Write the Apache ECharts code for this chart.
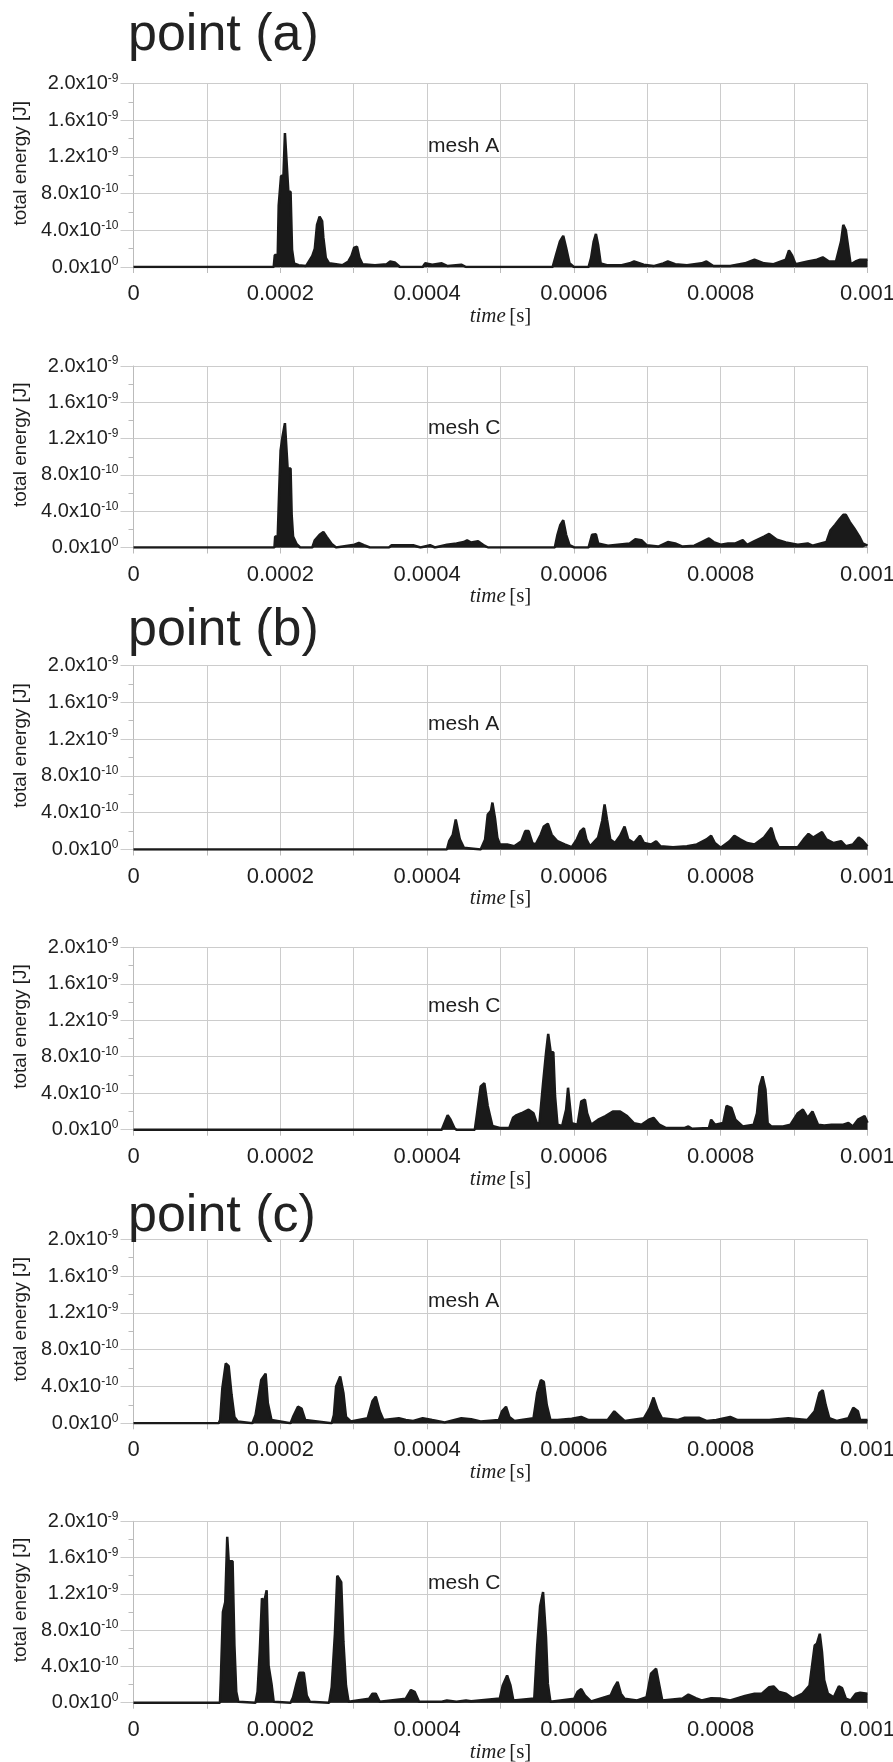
<!DOCTYPE html>
<html><head><meta charset="utf-8">
<script src="https://cdn.jsdelivr.net/npm/echarts@6/dist/echarts.min.js"></script>
<style>html,body{margin:0;padding:0;background:#fff}#c{width:893px;height:1762px}</style>
</head><body><div id="c"></div>
<script>
// time in microseconds, energy in units of 1e-10 J (upper envelope)
const US = 1e-6, E10 = 1e-10;
const xTickLabels = ['0','','0.0002','','0.0004','','0.0006','','0.0008','','0.001'];
const yTickMain = ['0.0x10','4.0x10','8.0x10','1.2x10','1.6x10','2.0x10'];
const yTickExp  = ['0','-10','-10','-9','-9','-9'];
const pointTitles = ['point (a)','point (b)','point (c)'];
const meshLabels = ['mesh A','mesh C','mesh A','mesh C','mesh A','mesh C'];

const aA = [[0,0],[191,0],[192.5,1.3],[196.5,1.3],[197.8,6.7],[201,9.9],[204.3,10],[206.3,14.6],[209,14.4],[211,8.2],[214,8.2],[216,1.9],[218.7,0.4],[225,0.2],[235,0.1],[243.6,1.2],[247,2],[250,4.6],[253.5,5.5],[257,5],[258.7,3.2],[262,1],[266.5,0.4],[276,0.3],[285,0.2],[292.7,0.6],[297,1.2],[300.6,2.1],[304.5,2.2],[307.8,1],[312,0.3],[329,0.2],[345,0.3],[349.7,0.6],[356,0.5],[363,0],[394,0],[397.5,0.4],[407,0.25],[420,0.4],[428,0.1],[446.6,0.25],[453,0],[571,0],[575.6,1.3],[581,2.8],[585.5,3.4],[589.4,2.1],[594,0.4],[600,0],[620,0],[623.4,1],[627,2.8],[630,3.6],[633,2.4],[636.5,0.4],[645,0.2],[665,0.2],[676,0.4],[682,0.6],[695,0.25],[708.5,0.1],[721.7,0.4],[728,0.6],[738,0.3],[754,0.2],[774,0.4],[780.6,0.6],[790,0.1],[813,0.1],[833,0.4],[846,0.8],[859,0.4],[872,0.3],[888.7,0.8],[893,1.8],[897,1.3],[902,0.3],[918.5,0.6],[931,0.8],[939,1.05],[947.6,0.6],[957,0.6],[964,2.8],[967,4.6],[970.5,4],[973.8,2.1],[977,0.3],[983.6,0.6],[990,0.8],[1000,0.8]];

const aC = [[0,0],[192,0],[193,1.2],[196.5,1.2],[198.4,6.1],[200.4,10.7],[203,12.2],[206.3,13.7],[208.3,13.7],[210,8.7],[214,8.7],[215.5,3.6],[217.4,1.2],[222,0.4],[227,0],[243.6,0],[247,0.8],[253.5,1.4],[258.7,1.7],[263,1.2],[270,0.4],[276,0],[301,0.3],[307,0.5],[314,0.25],[322,0],[348,0],[351.7,0.25],[381,0.25],[391,0],[404,0.25],[410.6,0],[427,0.3],[440,0.45],[450,0.6],[454.5,0.8],[460,0.55],[469.5,0.7],[478,0.2],[483,0],[574,0],[577.6,1.4],[581.5,2.5],[585.5,3.0],[589.4,1.4],[594,0.25],[600.5,0],[620,0],[624.7,1.4],[630,1.45],[633,0.45],[646.4,0.2],[676,0.45],[683.7,0.9],[692,0.8],[699,0.25],[715,0.1],[728,0.6],[738,0.45],[748,0.1],[764,0.2],[774,0.6],[784,1.0],[790.4,0.6],[800,0.3],[810,0.45],[820,0.45],[830,0.8],[836,0.3],[846,0.7],[859,1.2],[866,1.5],[875.6,0.9],[888.7,0.55],[905,0.3],[918.5,0.45],[925,0.2],[944,0.6],[949.6,1.9],[956,2.5],[962.6,3.2],[967,3.6],[970.5,3.6],[976,2.8],[982,2.1],[989,1.2],[993.5,0.45],[1000,0.2]];

const bA = [[0,0],[427,0],[430,0.9],[435,1.6],[439,3.25],[441.4,3.4],[444.6,1.1],[450,0.2],[473,0],[479,1.1],[482.6,3.8],[487,4.2],[489,5.1],[492.5,3.4],[495.7,1.3],[499,0.55],[509,0.55],[518.7,0.35],[528.5,0.9],[533.7,2.0],[538.3,2.0],[543.5,0.7],[548,0.55],[554.7,1.6],[559,2.5],[564.5,2.8],[569.7,1.6],[577.6,0.9],[587.4,0.55],[597,0.25],[604,1.1],[609,2.0],[613.6,2.3],[617,1.1],[622,0.35],[633,1.3],[638.5,3.1],[641.8,4.9],[645,3.3],[649.6,1.1],[656,0.7],[663,1.5],[669,2.5],[674,1.1],[682,0.7],[690,1.5],[695.5,0.7],[705,0.55],[712,0.9],[718,0.35],[735,0.25],[754,0.35],[767.5,0.55],[780.6,1.1],[787,1.5],[792,0.7],[800,0.2],[812,0.9],[818.6,1.5],[826.5,1.1],[836,0.7],[846,0.55],[859,1.3],[869,2.35],[873.6,1.1],[879,0.25],[905,0.25],[913,1.1],[919.6,1.7],[926,1.3],[938,1.9],[944,1.1],[954,0.7],[964,0.9],[970.5,0.35],[980,0.55],[988,1.3],[993,1.0],[1000,0.35]];

const bC = [[0,0],[420,0],[423.7,0.75],[428,1.6],[432,1.1],[437,0.2],[440,0],[465,0],[467.6,1.5],[473,4.75],[478,5.1],[480.7,5.1],[482.6,2.6],[489,0.4],[499,0.2],[512,0.2],[517,1.3],[522,1.6],[528.5,1.8],[538.3,2.2],[545,1.8],[549.5,0.7],[553,0.7],[558,5.1],[562,8.4],[565,10.5],[568.4,8.5],[572,8.5],[574.3,3.7],[577.6,0.55],[584,0.4],[589.4,2.2],[592,4.6],[594.7,4.6],[597,0.7],[605,0.55],[610,3.1],[615,3.3],[618,1.8],[623.4,0.55],[633,1.1],[643,1.5],[653,2.0],[663,2.0],[672.5,1.5],[682,0.7],[692,0.55],[702,1.1],[708.5,1.3],[716.4,0.55],[725,0.2],[751,0.2],[756,0.35],[761,0.1],[784,0.2],[787,1.1],[792.4,0.55],[803.5,0.75],[808,2.6],[814.6,2.4],[820,1.1],[830,0.35],[845,0.55],[849.4,1.8],[853,4.75],[857,5.85],[861,4.4],[864,0.7],[869,0.35],[885,0.35],[895,0.55],[905,1.8],[912,2.2],[918.5,1.3],[925,2.0],[932.6,0.55],[941,0.45],[951,0.55],[967,0.55],[974,0.75],[980,0.35],[987,1.1],[996,1.5],[1000,0.75]];

const cA = [[0,0],[116,0],[118,0.35],[121,3.8],[125.7,6.5],[129.7,6.2],[133.6,3.1],[137.5,0.7],[142,0.2],[162,0],[166.3,0.9],[174,4.7],[180,5.4],[183,2.2],[188,0.35],[214,0],[217.4,0.7],[224,1.8],[229,1.6],[234,0.35],[270,0],[273,0.9],[276,4.0],[281.6,5.1],[286,3.3],[289.5,0.7],[296,0.2],[319,0.55],[325.5,2.4],[330,2.9],[335.4,1.3],[340.5,0.35],[361.5,0.55],[371,0.35],[381,0.25],[394,0.55],[407,0.35],[424,0.1],[446.6,0.55],[460,0.45],[473,0.2],[497.7,0.35],[502,1.3],[507.5,1.8],[512,0.7],[519,0.25],[545,0.55],[550,3.3],[555,4.7],[559,4.5],[563,2.0],[568,0.35],[577.6,0.35],[597,0.5],[610,0.7],[620,0.35],[646,0.35],[655,1.3],[661.5,0.8],[669,0.25],[695.5,0.55],[703,1.6],[708.5,2.8],[714,1.45],[720,0.55],[741,0.35],[751,0.6],[771,0.6],[780.6,0.25],[794,0.35],[813,0.7],[823,0.35],[840,0.35],[866,0.35],[892,0.55],[918,0.35],[928,1.3],[934.5,3.3],[939,3.6],[943,2.0],[948,0.55],[958,0.25],[974,0.55],[980.6,1.7],[987,1.3],[990,0.35],[1000,0.35]];

const cC = [[0,0],[117.8,0],[119,2.6],[121.8,10],[125,11.1],[127.7,18.3],[129.7,15.6],[135,15.6],[137.5,6.3],[140,1.2],[142.8,0.1],[166.3,0],[169,1.2],[172,5.6],[175,11.5],[178,11.1],[181.4,12.4],[184,4.1],[188,2.1],[191,0.1],[214,0],[217.4,0.6],[222,2.1],[226,3.3],[232,3.3],[236,0.8],[240.3,0.1],[266.5,0],[270,1.7],[274.4,7.6],[277.6,14],[283,13.3],[286,6.7],[289.5,1.9],[293,0.1],[321,0.45],[325.5,1.0],[330,1.0],[335.4,0.1],[371,0.45],[378,1.4],[383,1.2],[389,0.1],[420,0.1],[427,0.25],[440,0.1],[453,0.25],[460,0.15],[499,0.45],[503,1.9],[509,3.0],[513.6,1.9],[517.5,0.25],[546,0.45],[550,6.3],[554,10.7],[558,12.2],[562,7.2],[564.5,2.1],[568,0.1],[600.5,0.45],[605,1.2],[610,1.5],[615,0.8],[623.4,0.15],[650,0.8],[655,1.7],[659.5,2.3],[664,1.0],[669,0.45],[686,0.25],[699,0.6],[705,3.2],[712,3.75],[716.4,1.9],[720.4,0.25],[748,0.45],[756,0.9],[766,0.5],[774,0.25],[787,0.5],[800,0.45],[813,0.25],[833,0.75],[846,1.0],[856,1.0],[866,1.7],[872,1.8],[879,1.2],[889,1.0],[898,0.45],[911.6,1.0],[921,1.9],[928,6.3],[931,6.5],[935,7.6],[938,5.6],[941,2.5],[946,1.0],[954,0.6],[961,1.8],[965.4,1.6],[970.5,0.45],[977,0.25],[984,1.0],[990,1.1],[1000,1.0]];

const panelData = [aA, aC, bA, bC, cA, cC];

// layout (pixels)
const gridTops = [83.5, 366, 665.5, 947.3, 1239.3, 1521.3];
const gridHeights = [183.5, 181.5, 184, 182.4, 184, 181.4];
const meshTops = [136, 418, 714, 996, 1291, 1573];
const pointTops = [10, 605, 1191];

const TXT = '#1e1e1e', GRID = '#cccccc';
const chart = echarts.init(document.getElementById('c'), null, {renderer: 'canvas', width: 893, height: 1762});
const grids = [], xAxes = [], yAxes = [], series = [], titles = [];

panelData.forEach((d, i) => {
  grids.push({left: 133.5, right: 25.5, top: gridTops[i], height: gridHeights[i], outerBoundsMode: 'none'});
  xAxes.push({
    gridIndex: i, type: 'value', min: 0, max: 0.001, interval: 0.0001,
    name: '{i|time} {r|[s]}', nameLocation: 'middle', nameGap: 36,
    nameTextStyle: {rich: {
      i: {fontFamily: 'Liberation Serif', fontStyle: 'italic', fontSize: 21, color: TXT},
      r: {fontFamily: 'Liberation Serif', fontSize: 21, color: TXT}
    }},
    axisLine: {show: true, lineStyle: {color: '#999', width: 1}},
    axisTick: {show: true, length: 6, lineStyle: {color: '#bbb'}},
    axisLabel: {margin: 16, fontFamily: 'Liberation Sans', fontSize: 22, color: TXT,
      formatter: (v, idx) => xTickLabels[idx] || ''},
    splitLine: {show: true, lineStyle: {color: GRID, width: 1}}
  });
  yAxes.push({
    gridIndex: i, type: 'value', min: 0, max: 2e-9, interval: 4e-10,
    name: 'total energy [J]', nameLocation: 'middle', nameGap: 103, nameRotate: 90,
    nameTextStyle: {fontFamily: 'Liberation Sans', fontSize: 19, color: TXT, padding: [0, 0, 0, 24]},
    axisLine: {show: true, lineStyle: {color: '#bbb', width: 1}},
    axisTick: {show: true, length: 13, lineStyle: {color: GRID}},
    minorTick: {show: true, splitNumber: 2, length: 5, lineStyle: {color: '#bbb'}},
    axisLabel: {margin: 15,
      formatter: (v, idx) => '{m|' + yTickMain[idx] + '}{s|' + yTickExp[idx] + '}',
      rich: {
        m: {fontFamily: 'Liberation Sans', fontSize: 20, color: TXT, lineHeight: 22},
        s: {fontFamily: 'Liberation Sans', fontSize: 12, color: TXT, lineHeight: 12, verticalAlign: 'top'}
      }},
    splitLine: {show: true, lineStyle: {color: GRID, width: 1}}
  });
  series.push({
    type: 'line', xAxisIndex: i, yAxisIndex: i,
    data: d.map(p => [p[0] * US, p[1] * E10]),
    symbol: 'none', showSymbol: false, silent: true, animation: false,
    lineStyle: {color: '#1a1a1a', width: 2.5},
    areaStyle: {color: '#1a1a1a', opacity: 1, origin: 'start'}
  });
  titles.push({text: meshLabels[i], left: 428, top: meshTops[i], padding: 0,
    textStyle: {fontFamily: 'Liberation Sans', fontSize: 21, fontWeight: 'normal', color: TXT}});
});
pointTitles.forEach((t, k) => {
  titles.push({text: t, left: 128, top: pointTops[k], padding: 0,
    textStyle: {fontFamily: 'Liberation Sans', fontSize: 52, fontWeight: 'normal', color: '#222'}});
});

chart.setOption({
  animation: false,
  backgroundColor: '#fff',
  title: titles,
  grid: grids,
  xAxis: xAxes,
  yAxis: yAxes,
  series: series
});
</script>
</body></html>
